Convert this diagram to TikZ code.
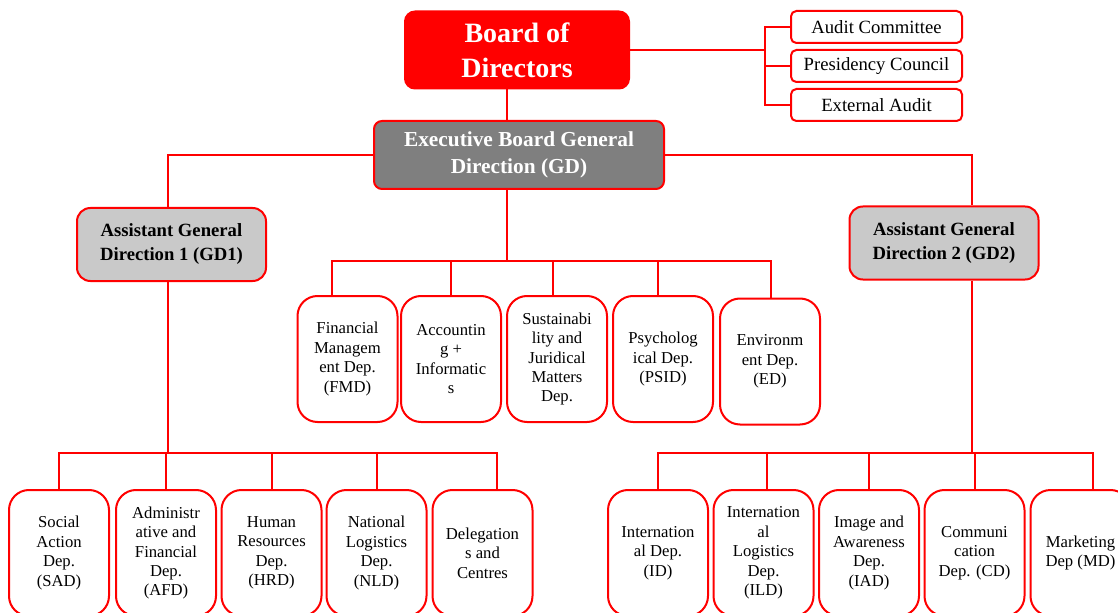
\documentclass[tikz,border=0pt]{standalone}
\usepackage{fontspec}
\setmainfont{Liberation Serif}
\usepackage{tikz}

\definecolor{gdgray}{HTML}{7F7F7F}
\definecolor{agdgray}{HTML}{C9C9C9}

\tikzset{
  box/.style={draw=red, line width=1.5pt, align=center, inner sep=0pt},
  dept/.style={box, rounded corners=15pt, minimum width=75pt, minimum height=94.5pt, font=\fontsize{12.5}{14.6}\selectfont},
  side/.style={box, rounded corners=4pt, minimum width=128.25pt, minimum height=24pt, font=\fontsize{14}{16}\selectfont},
  assist/.style={box, fill=agdgray, rounded corners=10pt, minimum width=141.75pt, minimum height=54.75pt, font=\bfseries\fontsize{14}{18}\selectfont},
  link/.style={red, line width=1.5pt}
}

\begin{document}
\begin{tikzpicture}[x=0.75pt, y=-0.75pt]
        \useasboundingbox (0,0) rectangle (1118,613);
        \begin{scope}[every node/.style={box}]
                \node[fill=red, text=white, rounded corners=7.5pt, minimum width=168pt, minimum height=57.75pt, font=\bfseries\fontsize{21}{26}\selectfont] (BoD) at (517,50) {Board of\\Directors};
                \node[fill=gdgray, text=white, rounded corners=6pt, minimum width=217.5pt, minimum height=51pt, font=\bfseries\fontsize{16}{20}\selectfont] (GD) at (519,155) {Executive Board General\\Direction (GD)};
                \node[assist] (GD1) at (171.5,244.5) {Assistant General\\Direction 1 (GD1)};
                \node[assist] (GD2) at (944,243) {Assistant General\\Direction 2 (GD2)};
                \node[side] (AC) at (876.5,27) {Audit Committee};
                \node[side] (PC) at (876.5,66) {Presidency Council};
                \node[side] (EA) at (876.5,105) {External Audit};
        \end{scope}
        \begin{scope}[every node/.style={dept}]
                \node (FMD) at (347.5,359) {Financial\\Managem\\ent Dep.\\(FMD)};
                \node (ACI) at (451,359) {Accountin\\g +\\Informatic\\s};
                \node (SJM) at (557,359) {Sustainabi\\lity and\\Juridical\\Matters\\Dep.};
                \node (PSID) at (663,359) {Psycholog\\ical Dep.\\(PSID)};
                \node (ED) at (770,361.5) {Environm\\ent Dep.\\(ED)};
                \node (SAD) at (59,553) {Social\\Action\\Dep.\\(SAD)};
                \node (AFD) at (166,553) {Administr\\ative and\\Financial\\Dep.\\(AFD)};
                \node (HRD) at (271.5,553) {Human\\Resources\\Dep.\\(HRD)};
                \node (NLD) at (376.5,553) {National\\Logistics\\Dep.\\(NLD)};
                \node (DC) at (482.5,553) {Delegation\\s and\\Centres};
                \node (ID) at (658,553) {Internation\\al Dep.\\(ID)};
                \node (ILD) at (763.5,553) {Internation\\al\\Logistics\\Dep.\\(ILD)};
                \node (IAD) at (869,553) {Image and\\Awareness\\Dep.\\(IAD)};
                \node (CD) at (974.5,553) {Communi\\cation\\Dep. (CD)};
                \node (MD) at (1080.5,553) {Marketing\\Dep (MD)};
        \end{scope}
        \coordinate (hubS) at (765,50);
        \coordinate (hubM) at (507,261);
        \coordinate (hubL) at (168,453);
        \coordinate (hubR) at (972,453);
        \begin{scope}[every path/.style={link}]
                \draw (BoD.east) -- (BoD.east -| hubS);
                \foreach \n in {AC,PC,EA}
                        \draw (BoD.east -| hubS) |- (\n.west);
                \draw (BoD.south -| hubM) -- (GD.north -| hubM);
                \draw (GD.south -| hubM) -- (hubM);
                \foreach \n/\dx in {FMD/-12pt,ACI/0pt,SJM/-3pt,PSID/-4pt,ED/1pt}
                        \draw (hubM) -| ([xshift=\dx]\n.north);
                \draw (GD.west) -| (GD1.north -| hubL);
                \draw (GD.east) -| (GD2.north -| hubR);
                \draw (GD1.south -| hubL) -- (hubL);
                \draw (GD2.south -| hubR) -- (hubR);
                \foreach \n/\dx in {SAD/0pt,AFD/0pt,HRD/0pt,NLD/0pt,DC/11pt}
                        \draw (hubL) -| ([xshift=\dx]\n.north);
                \foreach \n/\dx in {ID/0pt,ILD/2.5pt,IAD/0pt,CD/0pt,MD/9.5pt}
                        \draw (hubR) -| ([xshift=\dx]\n.north);
        \end{scope}
\end{tikzpicture}
\end{document}
